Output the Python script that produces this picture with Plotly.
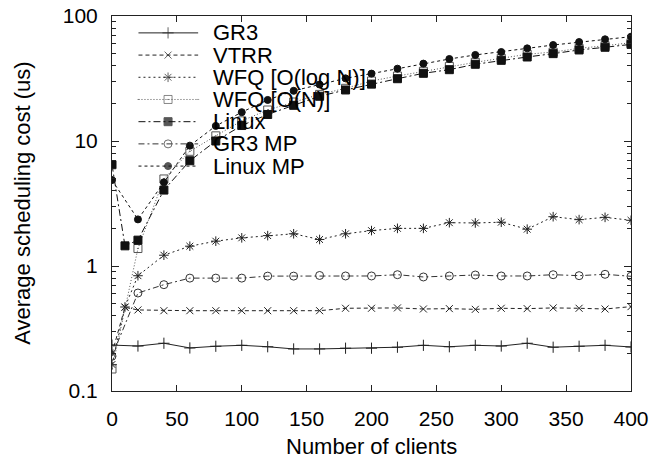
import plotly.graph_objects as go

# ---------------- data ----------------
x20 = [0, 20, 40, 60, 80, 100, 120, 140, 160, 180, 200, 220, 240, 260, 280, 300, 320, 340, 360, 380, 400]
x10 = [0, 10] + x20[1:]

gr3 = [0.233, 0.229, 0.241, 0.221, 0.228, 0.232, 0.226, 0.217, 0.217, 0.220, 0.220,
       0.224, 0.232, 0.226, 0.232, 0.229, 0.241, 0.224, 0.228, 0.232, 0.225]
vtrr = [0.20, 0.467, 0.445, 0.439, 0.439, 0.439, 0.439, 0.439, 0.439, 0.439, 0.459,
        0.459, 0.462, 0.453, 0.456, 0.450, 0.459, 0.456, 0.462, 0.459, 0.453, 0.473]
wfq_log = [0.163, 0.47, 0.836, 1.22, 1.44, 1.58, 1.68, 1.75, 1.81, 1.63, 1.81,
           1.92, 2.0, 2.0, 2.22, 2.21, 2.24, 1.97, 2.48, 2.35, 2.45, 2.32]
wfq_n = [0.15, 1.38, 4.97, 8.27, 11.0, 14.5, 17.7, 20.5, 23.6, 26.4, 30.2,
         33.1, 36.1, 39.5, 42.6, 45.9, 49.4, 51.5, 55.1, 57.9, 61.1]
linux = [6.46, 1.45, 1.61, 4.05, 6.95, 10.0, 13.3, 16.3, 19.3, 22.8, 25.6,
         28.5, 31.5, 34.8, 37.2, 41.1, 44.2, 47.0, 50.0, 53.5, 56.2, 59.3]
gr3_mp = [0.19, 0.608, 0.709, 0.80, 0.80, 0.80, 0.83, 0.83, 0.84, 0.832, 0.832,
          0.852, 0.817, 0.832, 0.847, 0.832, 0.832, 0.852, 0.837, 0.858, 0.827]
linux_mp = [4.87, 2.36, 4.67, 9.18, 13.2, 17.0, 21.3, 25.2, 28.3, 31.7, 34.6,
            37.9, 41.6, 45.3, 48.8, 51.5, 55.1, 58.6, 61.9, 65.1, 68.3]

x_ticks = [0, 50, 100, 150, 200, 250, 300, 350, 400]
y_ticks = [0.1, 1, 10, 100]
y_tick_text = ["0.1", "1", "10", "100"]

x_title = "Number of clients"
y_title = "Average scheduling cost (us)"

series = [
    # name, x, y, dash, color, symbol, size
    ("GR3", x20, gr3, "solid", "#222", "cross-thin", 8),
    ("VTRR", x10, vtrr, "4px,3px", "#222", "x-thin", 7),
    ("WFQ [O(log N)]", x10, wfq_log, "2px,3px", "#222", "asterisk", 8),
    ("WFQ [O(N)]", x20, wfq_n, "1px,2px", "#555", "square-open-dot", 8),
    ("Linux", x10, linux, "7px,3px,2px,3px", "#111", "square", 8),
    ("GR3 MP", x20, gr3_mp, "6px,3px,2px,3px", "#333", "circle-open", 8),
    ("Linux MP", x20, linux_mp, "3px,3px", "#111", "circle", 7),
]

FONT = "Liberation Sans, Arial, Helvetica, sans-serif"

fig = go.Figure()
for name, xs, ys, dash, color, sym, size in series:
    fig.add_trace(go.Scatter(
        x=xs, y=ys, mode="lines+markers", name=name, showlegend=False,
        line=dict(color=color, width=1, dash=dash),
        marker=dict(symbol=sym, size=size, color=color,
                    line=dict(color=color, width=1)),
    ))

# ---------- hand-made legend (layout only) ----------
leg_x = [0.051, 0.108, 0.166]
leg_text_x = 0.190
leg_top = 0.955
leg_step = 0.0592
for i, (name, xs, ys, dash, color, sym, size) in enumerate(series):
    yy = leg_top - i * leg_step
    fig.add_trace(go.Scatter(
        x=leg_x, y=[yy] * 3, xaxis="x2", yaxis="y2", mode="lines+markers",
        showlegend=False, hoverinfo="skip",
        line=dict(color=color, width=1, dash=dash),
        marker=dict(symbol=sym, size=[0, size, 0], color=color,
                    line=dict(color=color, width=1)),
    ))
    fig.add_annotation(x=leg_text_x, y=yy, xref="x2", yref="y2", text=name,
                       showarrow=False, xanchor="left", yanchor="middle",
                       font=dict(family=FONT, size=22, color="#000"))

# axis titles as annotations
fig.add_annotation(x=0.5, y=-0.149, xref="paper", yref="paper", text=x_title,
                   showarrow=False, xanchor="center", yanchor="middle",
                   font=dict(family=FONT, size=22, color="#000"))
fig.add_annotation(x=-0.173, y=0.5, xref="paper", yref="paper", text=y_title,
                   showarrow=False, xanchor="center", yanchor="middle", textangle=-90,
                   font=dict(family=FONT, size=22, color="#000"))

axis_common = dict(
    showline=True, linecolor="#222", linewidth=1, mirror="ticks",
    ticks="inside", tickcolor="#222", showgrid=False, zeroline=False,
    automargin=False,
    tickfont=dict(family=FONT, size=21, color="#000"),
)

fig.update_layout(
    width=654, height=459,
    margin=dict(l=112, r=23, t=16, b=68),
    paper_bgcolor="white", plot_bgcolor="white",
    font=dict(family=FONT, color="#000"),
    hovermode=False,
    xaxis=dict(range=[0, 400], tickvals=x_ticks, ticklen=6, ticklabelstandoff=9,
               **axis_common),
    yaxis=dict(type="log", range=[-1, 2], tickvals=y_ticks, ticktext=y_tick_text, ticklen=7,
               ticklabelstandoff=9,
               minor=dict(ticks="inside", ticklen=4, dtick="D1", tickcolor="#222", showgrid=False),
               **axis_common),
    xaxis2=dict(range=[0, 1], overlaying="x", visible=False),
    yaxis2=dict(range=[0, 1], overlaying="y", visible=False),
)

# remove the browser's default 8px body margin so the figure sits at the page origin
fig.write_html("out.html", config={"displayModeBar": False},
               post_script="document.body.style.margin='0px';")
